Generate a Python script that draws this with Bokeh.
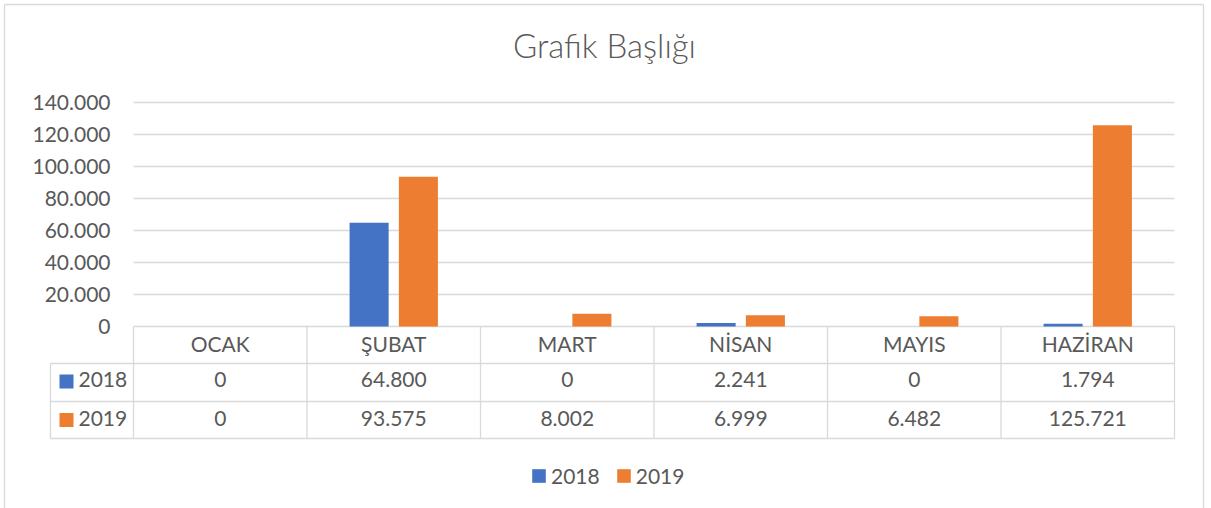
from bokeh.plotting import figure
from bokeh.models import (ColumnDataSource, Range1d, FixedTicker, Legend, LegendItem)
from bokeh.core.properties import value
from bokeh.embed import file_html
from bokeh.resources import INLINE

# ---------------- data ----------------
months = ["OCAK", "ŞUBAT", "MART", "NİSAN", "MAYIS", "HAZİRAN"]
series_names = ["2018", "2019"]
values_2018 = [0, 64800, 0, 2241, 0, 1794]
values_2019 = [0, 93575, 8002, 6999, 6482, 125721]
y_ticks = [0, 20000, 40000, 60000, 80000, 100000, 120000, 140000]
y_tick_labels = ["0", "20.000", "40.000", "60.000", "80.000",
                 "100.000", "120.000", "140.000"]
title_text = "Grafik Başlığı"
colors = ["#4472C4", "#ED7D31"]


def fmt(v):
    return f"{v:,}".replace(",", ".")


# ---------------- style / layout (pixels) ----------------
FONT = "Lato"
TITLE_FONT = "Lato Light"
TXT = "#595959"
GRID = "#d9d9d9"
W, H = 1211, 508
PLOT_LEFT, PLOT_RIGHT = 133, 1174     # category area
PLOT_TOP, PLOT_ZERO = 102, 326        # y max / y zero
COL_PX = (PLOT_RIGHT - PLOT_LEFT) / len(months)
UNITS_PER_PX = y_ticks[-1] / (PLOT_ZERO - PLOT_TOP)
ROW_LINES = [326, 363, 401, 438]      # table horizontal rules
KEY_COL_LEFT = 50
BORDER = (4, 4, 1203)                 # left, top, right of chart border
BAR_W = 0.225
BAR_OFF = 0.142


def X(px):
    return (px - PLOT_LEFT) / COL_PX


def Y(py):
    return (PLOT_ZERO - py) * UNITS_PER_PX


p = figure(width=W, height=H,
           x_range=Range1d(X(0), X(W)), y_range=Range1d(Y(H), Y(0)),
           x_axis_location=None,
           output_backend="svg", toolbar_location=None,
           min_border=0, min_border_left=0, min_border_right=0,
           min_border_top=0, min_border_bottom=0)
p.outline_line_color = None
p.grid.visible = False
p.background_fill_color = "white"
p.border_fill_color = "white"

# y axis placed at the left edge of the category area
ax = p.yaxis[0]
ax.fixed_location = 0
ax.ticker = FixedTicker(ticks=y_ticks)
ax.major_label_overrides = {t: l for t, l in zip(y_ticks, y_tick_labels)}
ax.axis_line_color = None
ax.major_tick_line_color = None
ax.minor_tick_line_color = None
ax.major_tick_out = 0
ax.major_tick_in = 0
ax.major_label_standoff = 23
ax.major_label_text_font = FONT
ax.major_label_text_font_size = "21px"
ax.major_label_text_color = TXT

n = len(months)
# horizontal grid lines across the category area
p.segment(x0=[0] * len(y_ticks), y0=y_ticks, x1=[n] * len(y_ticks), y1=y_ticks,
          line_color=GRID, line_width=1.3)

# bars
src = ColumnDataSource(dict(
    x18=[i + 0.5 - BAR_OFF for i in range(n)],
    x19=[i + 0.5 + BAR_OFF for i in range(n)],
    v2018=values_2018, v2019=values_2019))
p.vbar(x="x18", top="v2018", width=BAR_W, source=src,
       fill_color=colors[0], line_color=None)
p.vbar(x="x19", top="v2019", width=BAR_W, source=src,
       fill_color=colors[1], line_color=None)

# chart border
bl, bt, br = BORDER
p.segment(x0=[X(bl), X(bl), X(br)], y0=[Y(bt), Y(H + 5), Y(H + 5)],
          x1=[X(br), X(bl), X(br)], y1=[Y(bt), Y(bt), Y(bt)],
          line_color=GRID, line_width=1.3)

# title
p.text(x=[X(604)], y=[Y(44)], text=[title_text], text_align="center",
       text_baseline="middle", text_font=value(TITLE_FONT),
       text_font_size=value("33px"), text_color=TXT)

# ---------------- data table ----------------
hdr_mid, row_mids = 342.5, [379, 417.5]
key_centers = [381, 419.5]
# header row
p.text(x=[i + 0.5 for i in range(n)], y=[Y(hdr_mid)] * n, text=months,
       text_align="center", text_baseline="middle",
       text_font=value(FONT), text_font_size=value("21px"), text_color=TXT)
# value cells
all_vals = [values_2018, values_2019]
cell_src = ColumnDataSource(dict(
    x=[j + 0.5 for i in range(len(all_vals)) for j in range(n)],
    y=[Y(row_mids[i]) for i in range(len(all_vals)) for j in range(n)],
    t=[fmt(v) for vals in all_vals for v in vals]))
p.text(x="x", y="y", text="t", source=cell_src,
       text_align="center", text_baseline="middle",
       text_font=value(FONT), text_font_size=value("21px"), text_color=TXT)
# row keys
key_src = ColumnDataSource(dict(
    x=[X(66)] * 2, y=[Y(c) for c in key_centers], c=colors,
    tx=[X(78)] * 2, ty=[Y(m) for m in row_mids], name=series_names))
keys = p.rect(x="x", y="y", width=14, height=14,
              width_units="screen", height_units="screen",
              fill_color="c", line_color=None, source=key_src)
p.text(x="tx", y="ty", text="name", source=key_src,
       text_align="left", text_baseline="middle",
       text_font=value(FONT), text_font_size=value("21px"), text_color=TXT)
# table rules
vx = list(range(n + 1))
p.segment(x0=vx, y0=[Y(ROW_LINES[0])] * len(vx), x1=vx,
          y1=[Y(ROW_LINES[-1])] * len(vx), line_color=GRID, line_width=1.3)
p.segment(x0=[X(KEY_COL_LEFT)], y0=[Y(ROW_LINES[1])], x1=[X(KEY_COL_LEFT)],
          y1=[Y(ROW_LINES[-1])], line_color=GRID, line_width=1.3)
p.segment(x0=[X(KEY_COL_LEFT)] * 3, y0=[Y(r) for r in ROW_LINES[1:]],
          x1=[n] * 3, y1=[Y(r) for r in ROW_LINES[1:]],
          line_color=GRID, line_width=1.3)

# ---------------- legend ----------------
legend = Legend(items=[LegendItem(label=nm, renderers=[keys], index=i)
                       for i, nm in enumerate(series_names)],
                orientation="horizontal", location=(530, 20),
                glyph_width=17, glyph_height=17, label_standoff=4,
                spacing=15, padding=0, margin=0,
                border_line_color=None, background_fill_alpha=0,
                label_text_font=FONT, label_text_font_size="21px",
                label_text_color=TXT)
p.add_layout(legend, "center")

open("out.html", "w").write(file_html(p, INLINE))
